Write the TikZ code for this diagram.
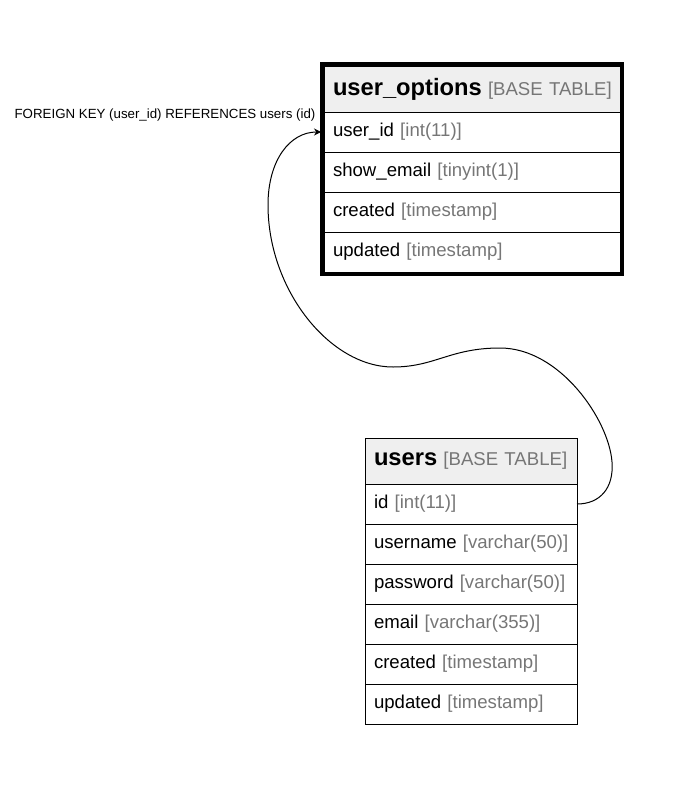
\documentclass[tikz,border=0pt]{standalone}
\usepackage{fontspec}
\usepackage{xcolor}
\usepackage{tikz}
\usetikzlibrary{arrows.meta}
\setmainfont{Liberation Sans}
\definecolor{typegray}{RGB}{118,118,118}
\definecolor{headfill}{RGB}{239,239,239}
\newcommand{\rowfont}{\fontsize{18.6}{22}\selectfont}
\newcommand{\tblname}[1]{{\fontsize{23.7}{28}\selectfont\bfseries #1}}
\newcommand{\fld}[2]{\mbox{#1 {\color{typegray}[#2]}}}
\tikzset{
  fieldrow/.style={draw, line width=1pt, anchor=north west, minimum height=40pt,
    inner xsep=9pt, inner ysep=0pt, outer sep=0pt, text width=#1, align=left, font=\rowfont},
  tblhead/.style={fieldrow=#1, fill=headfill, minimum height=46pt},
  fklabel/.style={font=\fontsize{13.3}{16}\selectfont, inner sep=0pt},
  fkline/.style={line width=1pt, -{Stealth[length=7pt, width=7pt]}}
}

\begin{document}
\begin{tikzpicture}[x=1pt, y=-1pt]
  \useasboundingbox (0,0) rectangle (687,787);
  % user_options table
  \node[tblhead=280pt] (uohead) at (324,66) {\mbox{\tblname{user\_options} {\color{typegray}[BASE TABLE]}}};
  \foreach \i/\f/\t in {1/user\_id/int(11), 2/show\_email/tinyint(1),
                        3/created/timestamp, 4/updated/timestamp} {
    \node[fieldrow=280pt] (uo\i) at (324,{72+40*\i}) {\fld{\f}{\t}};
  }
  \draw[line width=4pt] (322,64) rectangle (622,274);
  % users table
  \node[tblhead=194pt] (ushead) at (365,438) {\mbox{\tblname{users} {\color{typegray}[BASE TABLE]}}};
  \foreach \i/\f/\t in {1/id/int(11), 2/username/varchar(50), 3/password/varchar(50),
                        4/email/varchar(355), 5/created/timestamp, 6/updated/timestamp} {
    \node[fieldrow=194pt] (us\i) at (365,{444+40*\i}) {\fld{\f}{\t}};
  }
  % foreign key
  \node[fklabel] (fk) at (165,115) {FOREIGN KEY (user\_id) REFERENCES users (id)};
  \draw[fkline] (us1.east)
    .. controls (600,504) and (614,488) .. (612,462)
    .. controls (609,420) and (560,348) .. (500,348)
    .. controls (450,348) and (435,367) .. (393,367)
    .. controls (330,367) and (268,290) .. (268,205)
    .. controls (268,160) and (290,132) .. ([xshift=-3pt]uo1.west);
\end{tikzpicture}
\end{document}
